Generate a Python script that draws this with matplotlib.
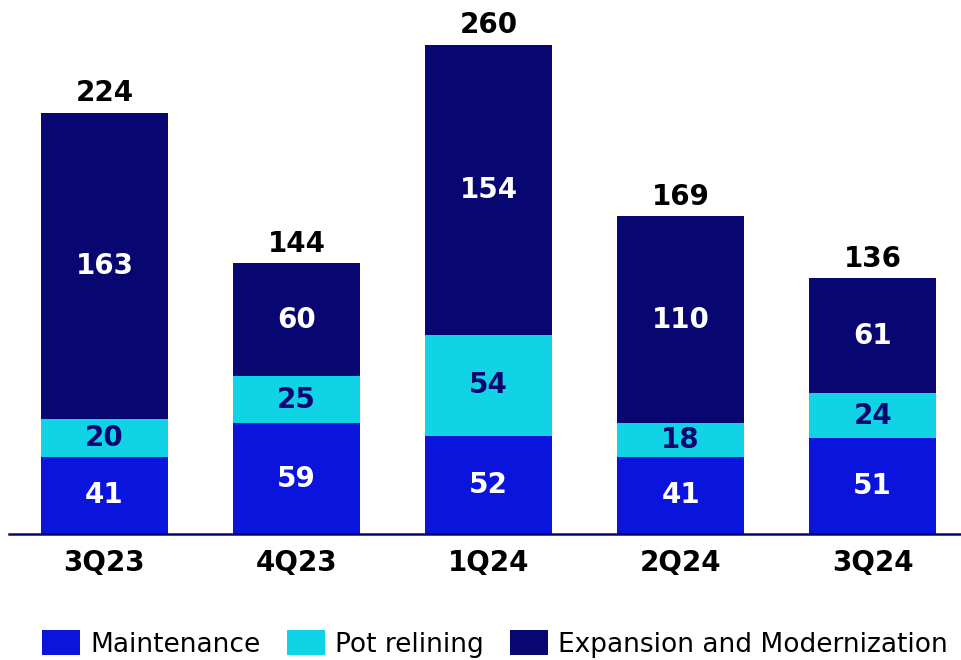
import matplotlib.pyplot as plt
import numpy as np

# quarterly values per category
quarters = ["3Q23", "4Q23", "1Q24", "2Q24", "3Q24"]
maintenance = [41, 59, 52, 41, 51]
pot_relining = [20, 25, 54, 18, 24]
expansion = [163, 60, 154, 110, 61]
totals = [224, 144, 260, 169, 136]

c_maint = "#0A14DC"
c_pot = "#10D3E6"
c_exp = "#080670"

plt.rcParams['font.family'] = ['DejaVu Sans']

fig = plt.figure(figsize=(9.61, 6.60), dpi=100)
ax = fig.add_axes([9 / 961, 1 - 534 / 660, 952 / 961, 534 / 660])

x = np.arange(len(quarters))
w = 0.66
maint = np.array(maintenance)
pot = np.array(pot_relining)
exp_ = np.array(expansion)

b1 = ax.bar(x, maint, w, color=c_maint, label="Maintenance")
b2 = ax.bar(x, pot, w, bottom=maint, color=c_pot, label="Pot relining")
b3 = ax.bar(x, exp_, w, bottom=maint + pot, color=c_exp,
            label="Expansion and Modernization")

fs = 20
for i in range(len(x)):
    ax.text(x[i], maint[i] / 2, str(maint[i]), ha="center", va="center",
            color="white", fontsize=fs, fontweight="bold")
    ax.text(x[i], maint[i] + pot[i] / 2, str(pot[i]), ha="center", va="center",
            color=c_exp, fontsize=fs, fontweight="bold")
    ax.text(x[i], maint[i] + pot[i] + exp_[i] / 2, str(exp_[i]), ha="center",
            va="center", color="white", fontsize=fs, fontweight="bold")
    ax.text(x[i], totals[i] + 3, str(totals[i]), ha="center", va="bottom",
            color="black", fontsize=fs, fontweight="bold")

ax.set_xlim(-0.497, 4.46)
ax.set_ylim(0, 284)
for s in ["top", "right", "left"]:
    ax.spines[s].set_visible(False)
ax.spines["bottom"].set_color(c_exp)
ax.spines["bottom"].set_linewidth(1.8)
ax.set_yticks([])
ax.set_xticks(x)
ax.set_xticklabels(quarters, fontsize=fs, fontweight="bold")
ax.tick_params(axis="x", length=0, pad=11)

fig.legend(handles=[b1, b2, b3], loc="center left", bbox_to_anchor=(0.033, 0.024),
           ncol=3, frameon=False, fontsize=19, handlelength=1.44, handleheight=1.06,
           handletextpad=0.38, columnspacing=1.0, borderaxespad=0)

fig.savefig("out.png", dpi=100)
